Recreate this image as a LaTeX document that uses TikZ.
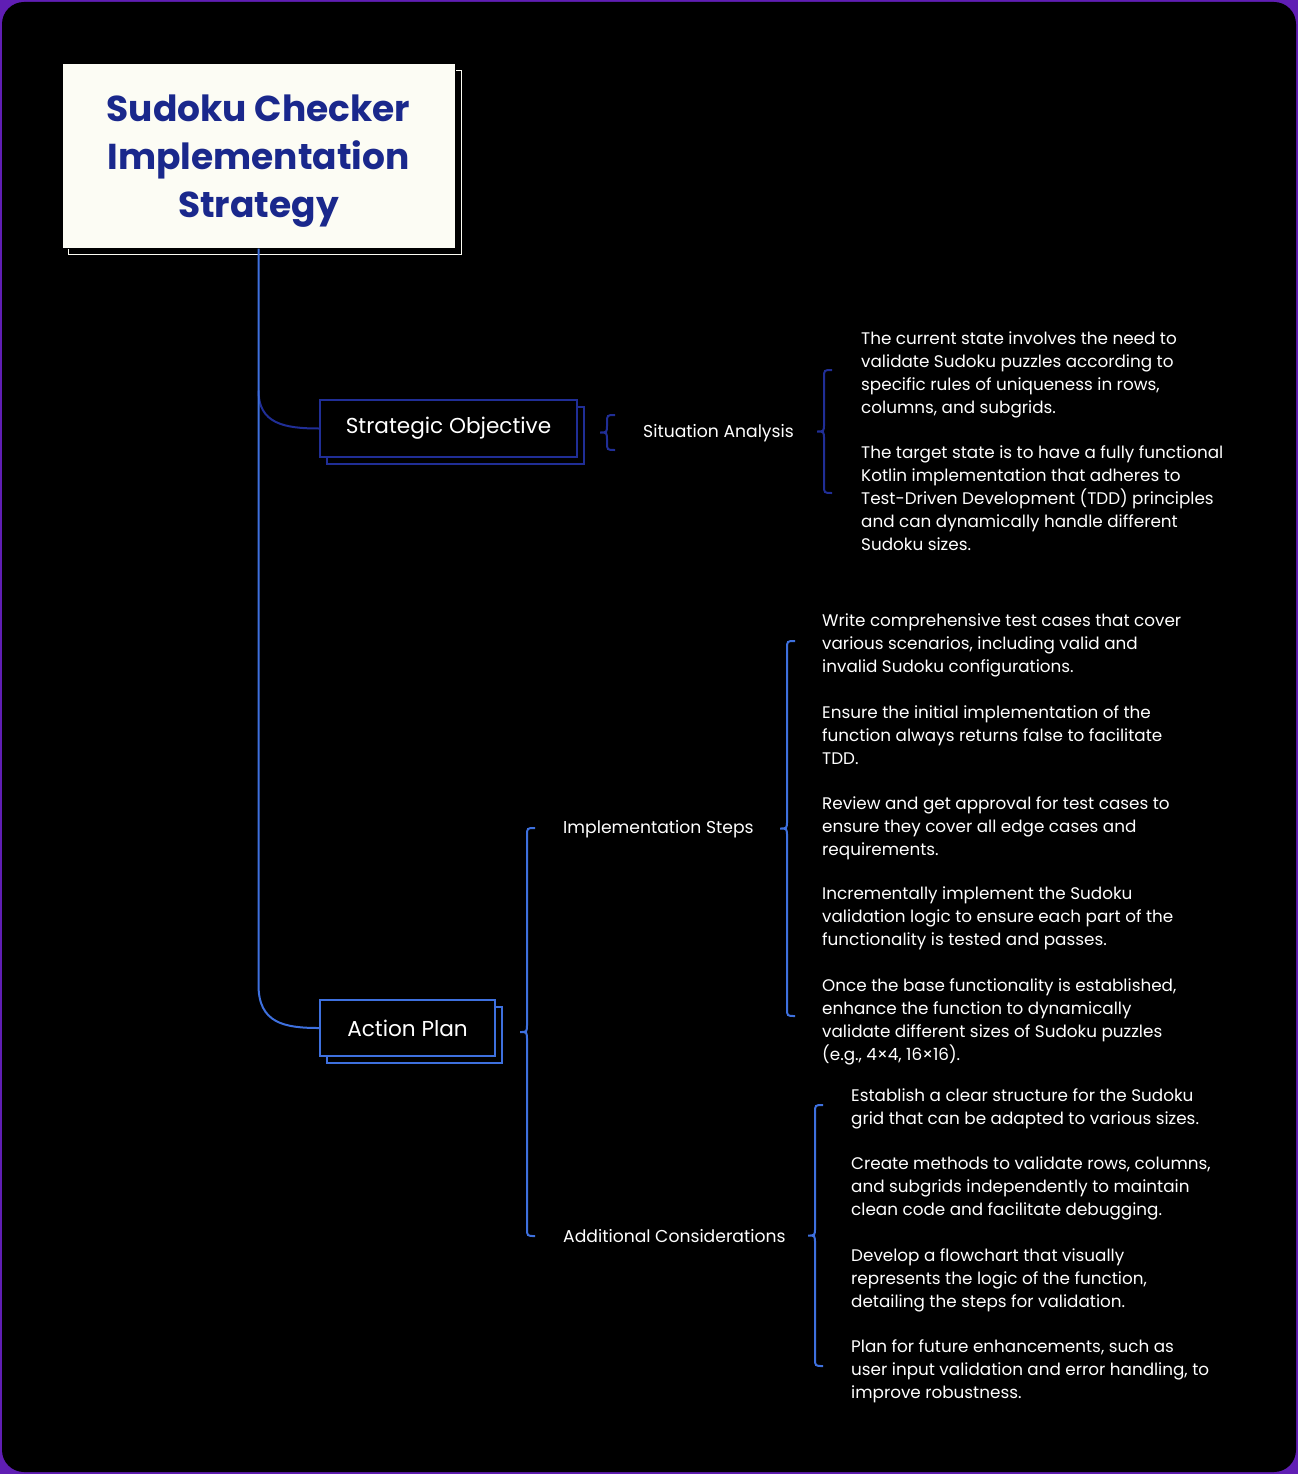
\documentclass[tikz,border=0pt]{standalone}
\usepackage{fontspec}
\setmainfont{Poppins}
\usetikzlibrary{shadows}
\definecolor{bgpurple}{RGB}{96,30,180}
\definecolor{brightblue}{RGB}{62,112,222}
\definecolor{darkblue}{RGB}{32,46,150}
\definecolor{navy}{RGB}{26,40,140}
\definecolor{cream}{RGB}{252,252,244}
\tikzset{
  titlebox/.style={draw=black, line width=1pt, fill=cream, minimum width=393pt, minimum height=184pt,
    inner sep=0pt,
    general shadow={fill=black, draw=cream, line width=1.5pt, shadow xshift=6.5pt, shadow yshift=-6.5pt}},
  titletext/.style={text=navy, align=center, inner sep=0pt,
    font=\fontsize{36}{48}\selectfont\bfseries},
  sobox/.style={draw=darkblue, line width=2pt, fill=black, minimum width=257pt, minimum height=57pt,
    text=white, font=\fontsize{21.6}{25}\selectfont, inner sep=0pt,
    copy shadow={shadow xshift=6.5pt, shadow yshift=-6.5pt}},
  apbox/.style={draw=brightblue, line width=2pt, fill=black, minimum width=175pt, minimum height=56pt,
    text=white, font=\fontsize{21.6}{25}\selectfont, inner sep=0pt,
    copy shadow={shadow xshift=6.5pt, shadow yshift=-6.5pt}},
  label/.style={text=white, font=\fontsize{17.2}{23}\selectfont, anchor=west, inner sep=0pt},
  para/.style={text=white, font=\fontsize{16.8}{23}\selectfont, anchor=north west, align=left, inner sep=0pt},
  conn/.style={line width=2pt},
}
\newcommand{\curly}[4]{%
  \pgfmathsetmacro\cxm{#1-8}%
  \pgfmathsetmacro\cxl{#1-15}%
  \pgfmathsetmacro\cmid{(#2+#3)/2}%
  \pgfmathsetmacro\ctopr{#2+8}%
  \pgfmathsetmacro\cmida{\cmid-8}%
  \pgfmathsetmacro\cmidb{\cmid+8}%
  \pgfmathsetmacro\cbotr{#3-8}%
  \draw[#4, line width=2pt] (#1,#2) .. controls (\cxm,#2) .. (\cxm,\ctopr) -- (\cxm,\cmida)
    .. controls (\cxm,\cmid) .. (\cxl,\cmid) .. controls (\cxm,\cmid) .. (\cxm,\cmidb)
    -- (\cxm,\cbotr) .. controls (\cxm,#3) .. (#1,#3);}
\begin{document}
\begin{tikzpicture}[x=1pt,y=-1pt]
\useasboundingbox (0,0) rectangle (1298,1474);
\fill[bgpurple] (0,0) rectangle (1298,1474);
\fill[black, rounded corners=22pt] (2,2) rectangle (1296,1472);

% title
\node[titlebox] (title) at (258.5,156) {};
\node[titletext] (titlelbl) at ([yshift=-5pt]title.center) {Sudoku Checker\\Implementation\\Strategy};

% branches
\node[sobox] (so) at (448.5,428.5) {Strategic Objective};
\node[apbox] (ap) at (407.5,1028) {Action Plan};

\draw[darkblue, conn] ([yshift=38pt]title.south |- so.west) .. controls ([yshift=5pt]title.south |- so.west) and ([xshift=-35pt]so.west) .. (so.west);
\draw[brightblue, conn] (title.south) -- ([yshift=43pt]title.south |- ap.west) .. controls ([yshift=5pt]title.south |- ap.west) and ([xshift=-35pt]ap.west) .. (ap.west);

% Strategic objective subtree
\node[label] (sa) at (643,433) {Situation Analysis};
\curly{615}{415}{450}{darkblue}
\curly{832}{370}{493}{darkblue}
\node[para] (sa1) at (861,332) {The current state involves the need to\\validate Sudoku puzzles according to\\specific rules of uniqueness in rows,\\columns, and subgrids.};
\node[para] (sa2) at (861,445) {The target state is to have a fully functional\\Kotlin implementation that adheres to\\Test-Driven Development (TDD) principles\\and can dynamically handle different\\Sudoku sizes.};

% Action plan subtree
\curly{535}{828}{1236}{brightblue}
\node[label] (is) at (563,829) {Implementation Steps};
\node[label] (ac) at (563,1236) {Additional Considerations};

\curly{795}{641}{1016}{brightblue}
\node[para] (is1) at (822,614) {Write comprehensive test cases that cover\\various scenarios, including valid and\\invalid Sudoku configurations.};
\node[para] (is2) at (822,705) {Ensure the initial implementation of the\\function always returns false to facilitate\\TDD.};
\node[para] (is3) at (822,796) {Review and get approval for test cases to\\ensure they cover all edge cases and\\requirements.};
\node[para] (is4) at (822,887) {Incrementally implement the Sudoku\\validation logic to ensure each part of the\\functionality is tested and passes.};
\node[para] (is5) at (822,978) {Once the base functionality is established,\\enhance the function to dynamically\\validate different sizes of Sudoku puzzles\\(e.g., 4×4, 16×16).};

\curly{823}{1105}{1366}{brightblue}
\node[para] (ac1) at (851,1088) {Establish a clear structure for the Sudoku\\grid that can be adapted to various sizes.};
\node[para] (ac2) at (851,1157) {Create methods to validate rows, columns,\\and subgrids independently to maintain\\clean code and facilitate debugging.};
\node[para] (ac3) at (851,1248) {Develop a flowchart that visually\\represents the logic of the function,\\detailing the steps for validation.};
\node[para] (ac4) at (851,1339) {Plan for future enhancements, such as\\user input validation and error handling, to\\improve robustness.};
\end{tikzpicture}
\end{document}
